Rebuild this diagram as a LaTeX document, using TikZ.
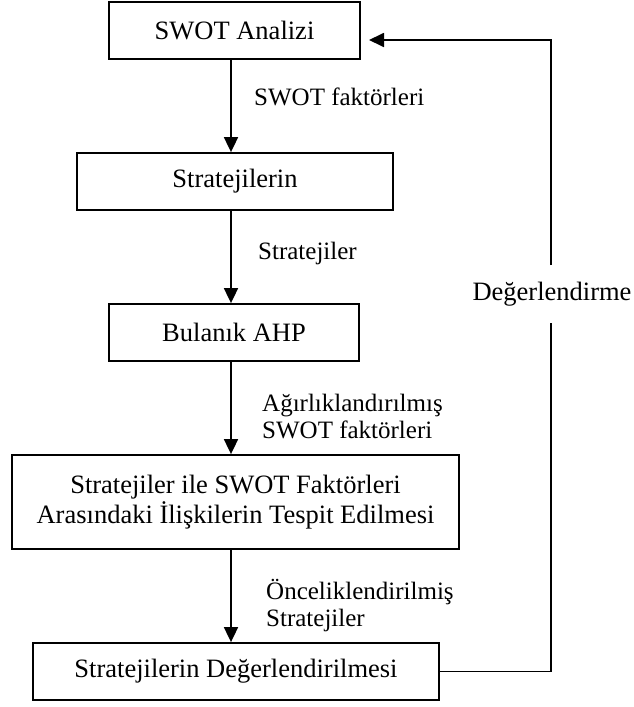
\documentclass[tikz,border=0pt]{standalone}
\usepackage{fontspec}
\setmainfont{Liberation Serif}
\usetikzlibrary{arrows.meta}
\begin{document}
\begin{tikzpicture}[x=1pt,y=-1pt,
  stepbox/.style={draw,line width=1.8pt,rectangle,inner sep=0pt,align=center,
    font=\fontsize{26.5}{30}\selectfont},
  flowarrow/.style={line width=1.8pt,-{Triangle[width=14pt,length=15pt]}},
  flowlabel/.style={anchor=west,align=left,inner sep=0pt,
    font=\fontsize{25}{27}\selectfont},
  fbline/.style={line width=1.8pt}]
\useasboundingbox (0,0) rectangle (634,707);
\node[stepbox,minimum width=251pt,minimum height=57pt] (b1) at (234.5,30.5) {SWOT Analizi};
\node[stepbox,minimum width=316pt,minimum height=57pt] (b2) at (235,181.5) {Stratejilerin};
\node[stepbox,minimum width=250pt,minimum height=57pt] (b3) at (234,332.5) {Bulanık AHP};
\node[stepbox,minimum width=447pt,minimum height=94pt] (b4) at (235.5,502) {Stratejiler ile SWOT Faktörleri\\Arasındaki İlişkilerin Tespit Edilmesi};
\node[stepbox,minimum width=406pt,minimum height=57pt] (b5) at (236,671.5) {Stratejilerin Değerlendirilmesi};
\coordinate (ax) at (231,0);
\draw[flowarrow] (b1.south -| ax) -- (b2.north -| ax);
\draw[flowarrow] (b2.south -| ax) -- (b3.north -| ax);
\draw[flowarrow] (b3.south -| ax) -- (b4.north -| ax);
\draw[flowarrow] (b4.south -| ax) -- (b5.north -| ax);
\node[flowlabel] (l1) at (254,97) {SWOT faktörleri};
\node[flowlabel] (l2) at (258,253) {Stratejiler};
\node[flowlabel] (l3) at (262,417) {Ağırlıklandırılmış\\SWOT faktörleri};
\node[flowlabel] (l4) at (266,606) {Önceliklendirilmiş\\Stratejiler};
\node[inner sep=0pt,font=\fontsize{26.5}{30}\selectfont] (fb) at (552,294) {Değerlendirme};
\coordinate (fbLow) at (551,323);
\coordinate (fbHigh) at (551,265);
\coordinate (fbEnd) at (369,40);
\draw[fbline] (b5.east) -| (fbLow);
\draw[flowarrow] (fbHigh) |- (fbEnd);
\end{tikzpicture}
\end{document}
